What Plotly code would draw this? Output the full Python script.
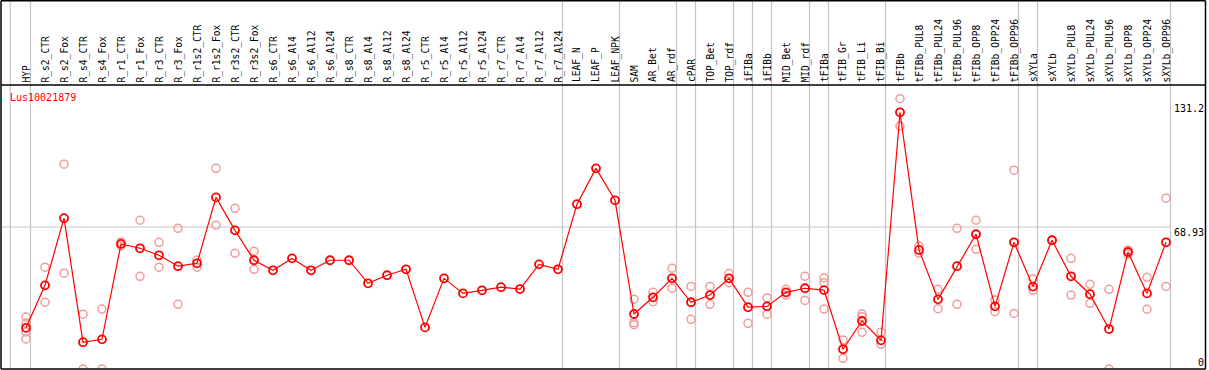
import plotly.graph_objects as go

title = "Lus10021879"

categories = [
    "HYP", "R_s2_CTR", "R_s2_Fox", "R_s4_CTR", "R_s4_Fox", "R_r1_CTR", "R_r1_Fox",
    "R_r3_CTR", "R_r3_Fox", "R_r1s2_CTR", "R_r1s2_Fox", "R_r3s2_CTR", "R_r3s2_Fox",
    "R_s6_CTR", "R_s6_Al4", "R_s6_Al12", "R_s6_Al24", "R_s8_CTR", "R_s8_Al4",
    "R_s8_Al12", "R_s8_Al24", "R_r5_CTR", "R_r5_Al4", "R_r5_Al12", "R_r5_Al24",
    "R_r7_CTR", "R_r7_Al4", "R_r7_Al12", "R_r7_Al24", "LEAF_N", "LEAF_P", "LEAF_NPK",
    "SAM", "AR_Bet", "AR_rdf", "cPAR", "TOP_Bet", "TOP_rdf", "iFIBa", "iFIBb",
    "MID_Bet", "MID_rdf", "tFIBa", "tFIB_Gr", "tFIB_Li", "tFIB_Bi", "tFIBb",
    "tFIBb_PUL8", "tFIBb_PUL24", "tFIBb_PUL96", "tFIBb_OPP8", "tFIBb_OPP24",
    "tFIBb_OPP96", "sXYLa", "sXYLb", "sXYLb_PUL8", "sXYLb_PUL24", "sXYLb_PUL96",
    "sXYLb_OPP8", "sXYLb_OPP24", "sXYLb_OPP96",
]

means = [
    20.0, 40.6, 73.2, 13.0, 14.4, 60.7, 58.6, 55.2, 49.9, 51.3, 83.3, 67.3, 52.8,
    47.9, 53.7, 47.9, 52.8, 52.8, 41.6, 45.5, 48.4, 20.2, 44.0, 36.7, 38.2,
    39.7, 38.8, 50.8, 48.4, 80.0, 97.4, 81.9,
    26.7, 34.8, 44.0, 32.4, 35.9, 44.0, 30.0, 30.4, 37.2, 39.2, 38.3, 9.6, 23.3, 13.9,
    124.6, 57.8, 33.8, 49.9, 65.4, 30.4, 61.5,
    40.0, 62.5, 45.0, 36.3, 19.4, 56.8, 36.7, 61.5,
]

replicates = [
    [25.2, 22.3, 18.0, 14.6], [49.4, 32.4], [99.4, 46.5], [26.6, 0.0], [29.1, 0.0],
    [61.7, 59.7], [72.2, 45.0], [61.5, 49.4], [68.3, 31.4], [52.9, 49.4],
    [97.4, 69.8], [78.0, 56.2], [57.1, 48.4],
    [], [], [], [], [], [], [], [], [], [], [], [], [], [], [], [], [], [], [],
    [33.8, 22.5, 21.5], [37.2, 32.7], [48.9, 39.2], [40.1, 24.1], [40.1, 31.4],
    [46.3, 41.9], [37.2, 22.2], [34.5, 26.6], [38.7, 35.9], [45.0, 33.3],
    [44.3, 41.9, 29.1], [14.1, 5.2], [26.7, 25.4, 17.8], [17.8, 12.0],
    [131.2, 118.0], [59.7, 56.2], [38.7, 29.3], [68.3, 31.4], [72.2, 58.1],
    [33.5, 27.8], [96.5, 27.0],
    [43.7, 38.3], [62.5], [53.7, 35.9], [41.1, 31.9], [38.7, 0.0], [57.8, 55.8],
    [44.5, 29.0], [82.9, 40.1],
]

# indices after which a group separator is drawn (-1 = before first)
group_ends = [-1, 0, 28, 31, 34, 35, 37, 38, 39, 41, 42, 45, 52, 53, 60]

y_max_label = "131.2"
y_mid_label = "68.93"
y_min_label = "0"
y_top = 137.86
y_mid = 68.93

W, H = 1209, 370
FONT = "DejaVu Sans Mono"
FS = 9.6

def py(pix):
    return (H - pix) / H

def px(pix):
    return pix / W

x_idx = list(range(len(categories)))
rep_x, rep_y = [], []
for i, reps in enumerate(replicates):
    for v in reps:
        rep_x.append(i)
        rep_y.append(v)

fig = go.Figure()
fig.add_trace(go.Scatter(
    x=rep_x, y=rep_y, mode="markers",
    marker=dict(symbol="circle-open", size=8, color="#F19C9C", line=dict(width=1.5, color="#F19C9C")),
    hoverinfo="skip", showlegend=False,
))
fig.add_trace(go.Scatter(
    x=x_idx, y=means, mode="lines+markers",
    line=dict(color="#FF0000", width=1.2),
    marker=dict(symbol="circle-open", size=8, color="#FF0000", line=dict(width=1.8, color="#FF0000")),
    text=categories, showlegend=False,
))

shapes = []
for g in group_ends:
    xv = -0.83 if g == -1 else g + 0.237
    shapes.append(dict(type="line", xref="x", yref="paper", x0=xv, x1=xv, y0=py(369), y1=1,
                       line=dict(color="#C4C4C4", width=1.2), layer="below"))
# horizontal mid grid
shapes.append(dict(type="line", xref="paper", yref="y", x0=px(1), x1=px(1170), y0=y_mid, y1=y_mid,
                   line=dict(color="#C4C4C4", width=1.2), layer="below"))
# frame
black = dict(color="black", width=1.5)
shapes += [
    dict(type="line", xref="paper", yref="paper", x0=px(1), x1=px(1205.5), y0=py(0.75), y1=py(0.75), line=black),
    dict(type="line", xref="paper", yref="paper", x0=px(1), x1=px(1205.5), y0=py(85), y1=py(85), line=black),
    dict(type="line", xref="paper", yref="paper", x0=px(1), x1=px(1205.5), y0=py(369), y1=py(369), line=black),
    dict(type="line", xref="paper", yref="paper", x0=px(1), x1=px(1), y0=py(0.75), y1=py(369), line=black),
    dict(type="line", xref="paper", yref="paper", x0=px(1205.5), x1=px(1205.5), y0=py(0.75), y1=py(369), line=black),
]

annotations = []
for i, c in enumerate(categories):
    annotations.append(dict(x=i, xref="x", y=py(83.5), yref="paper", text=c, textangle=-90,
                            xanchor="center", yanchor="bottom", showarrow=False,
                            font=dict(family=FONT, size=FS, color="black"), borderpad=0))
annotations.append(dict(x=px(9), xref="paper", y=py(97), yref="paper", text=title,
                        xanchor="left", yanchor="middle", showarrow=False,
                        font=dict(family=FONT, size=FS + 0.4, color="#FF0000"), borderpad=0))
for txt, ypix in [(y_max_label, 108), (y_mid_label, 232.5), (y_min_label, 362)]:
    annotations.append(dict(x=px(1205), xref="paper", y=py(ypix), yref="paper", text=txt,
                            xanchor="right", yanchor="middle", showarrow=False,
                            font=dict(family=FONT, size=FS + 0.4, color="black"), borderpad=0))

fig.update_layout(
    width=W, height=H, margin=dict(l=0, r=0, t=0, b=0),
    paper_bgcolor="white", plot_bgcolor="white",
    xaxis=dict(range=[-26 / 19, 1183 / 19], domain=[0, 1], visible=False, showgrid=False, zeroline=False),
    yaxis=dict(range=[0, y_top], domain=[py(369), py(85)], visible=False, showgrid=False, zeroline=False),
    shapes=shapes, annotations=annotations, showlegend=False,
)

fig.write_html(
    "out.html",
    config={"displayModeBar": False},
    post_script="document.body.style.margin='0';document.body.style.overflow='hidden';",
)
